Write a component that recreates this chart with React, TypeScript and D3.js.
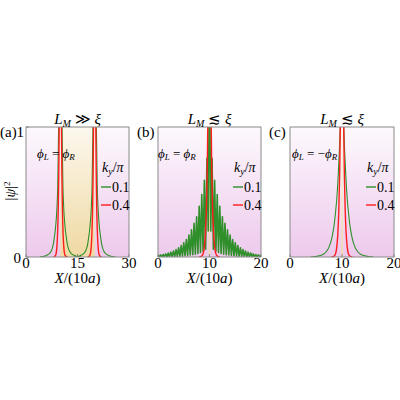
import React from "react"
import * as d3 from "d3"

// ---- data ----
const panelTags = ["(a)", "(b)", "(c)"]
const titleRelations = ["≫", "≲", "≲"]
const phaseSigns = ["", "", "−"]
const xMaxes = [30, 20, 20]
const xTickValues = [
    [0, 15, 30],
    [0, 10, 20],
    [0, 10, 20],
]
const yTickValues = [0, 1]
const legendLabels = ["0.1", "0.4"]

// middle (normal) region of each junction, in X/(10a)
const middleRegions = [
    [10, 20],
    [9.85, 10.15],
    [9.85, 10.15],
]

// peak centres of each panel
const peakCentres = [[10, 20], [10], [10]]

// k_y/pi = 0.4 : one narrow peak profile (offset from centre, |psi|^2)
const redOffsets = [-2, -1.5, -1.2, -1, -0.8, -0.6, -0.45, -0.3, -0.15, 0, 0.15, 0.3, 0.45, 0.6, 0.8, 1, 1.2, 1.5, 2]
const redValues = [0, 0.008, 0.03, 0.08, 0.18, 0.38, 0.65, 1.1, 2.0, 3.0, 2.0, 1.1, 0.65, 0.38, 0.18, 0.08, 0.03, 0.008, 0]

// k_y/pi = 0.1, panels (a) and (c): smooth peak profile
const greenOffsets = [-6, -5, -4, -3.5, -3, -2.5, -2, -1.75, -1.5, -1.25, -1, -0.75, -0.5, -0.25, 0, 0.25, 0.5, 0.75, 1, 1.25, 1.5, 1.75, 2, 2.5, 3, 3.5, 4, 5, 6]
const greenValuesA = [0.001, 0.004, 0.013, 0.02, 0.032, 0.055, 0.105, 0.15, 0.2, 0.27, 0.37, 0.55, 1.0, 1.6, 2.5, 1.6, 1.0, 0.55, 0.37, 0.27, 0.2, 0.15, 0.105, 0.055, 0.032, 0.02, 0.013, 0.004, 0.001]
const greenValuesC = [0.001, 0.004, 0.013, 0.023, 0.042, 0.076, 0.138, 0.187, 0.25, 0.34, 0.45, 0.61, 0.82, 1.1, 1.49, 1.1, 0.82, 0.61, 0.45, 0.34, 0.25, 0.187, 0.138, 0.076, 0.042, 0.023, 0.013, 0.004, 0.001]

// k_y/pi = 0.1, panel (b): fast oscillation, sampled every 0.25 from X = 0 to 20
const greenStepB = 0.25
const greenValuesB = [
    0.013, 0.001, 0.016, 0.001, 0.019, 0.002, 0.024, 0.002, 0.03, 0.003,
    0.037, 0.003, 0.046, 0.004, 0.057, 0.005, 0.071, 0.006, 0.088, 0.008,
    0.11, 0.01, 0.135, 0.012, 0.168, 0.015, 0.21, 0.018, 0.26, 0.022,
    0.31, 0.028, 0.39, 0.035, 0.48, 0.045, 0.59, 0.06, 0.76, 0.2,
    1.5,
    0.2, 0.76, 0.06, 0.59, 0.045, 0.48, 0.035, 0.39, 0.028, 0.31,
    0.022, 0.26, 0.018, 0.21, 0.015, 0.168, 0.012, 0.135, 0.01, 0.11,
    0.008, 0.088, 0.006, 0.071, 0.005, 0.057, 0.004, 0.046, 0.003, 0.037,
    0.003, 0.03, 0.002, 0.024, 0.002, 0.019, 0.001, 0.016, 0.001, 0.013,
]

// ---- layout ----
const panelLeft = [26, 158, 290]
const panelRight = [129, 261, 394]
const plotTop = 127
const plotBottom = 257
const GREEN = "#2f8f2a"
const RED = "#ff1c1c"
const FRAME = "#8a8a8a"
const FONT = "Liberation Serif"

type Pt = [number, number]

const Panel = ({ i }: { i: number }) => {
    const left = panelLeft[i]
    const right = panelRight[i]
    const x = d3.scaleLinear().domain([0, xMaxes[i]]).range([left, right])
    const y = d3.scaleLinear().domain([0, 1]).range([plotBottom, plotTop])
    const smooth = d3.line<Pt>().x((d) => x(d[0])).y((d) => y(d[1])).curve(d3.curveMonotoneX)
    const straight = d3.line<Pt>().x((d) => x(d[0])).y((d) => y(d[1]))

    const greenPaths: string[] = []
    if (i === 1) {
        const pts: Pt[] = greenValuesB.map((v, k) => [k * greenStepB, v])
        greenPaths.push(straight(pts) || "")
    } else {
        const vals = i === 0 ? greenValuesA : greenValuesC
        peakCentres[i].forEach((c) => {
            greenPaths.push(smooth(greenOffsets.map((o, k) => [c + o, vals[k]] as Pt)) || "")
        })
    }
    const redPaths = peakCentres[i].map((c) => smooth(redOffsets.map((o, k) => [c + o, redValues[k]] as Pt)) || "")

    const [m0, m1] = middleRegions[i]
    const clipId = `clip${i}`
    const legendX = right - 28

    return (
        <g fontFamily={FONT}>
            <defs>
                <clipPath id={clipId}>
                    <rect x={left} y={plotTop} width={right - left} height={plotBottom - plotTop} />
                </clipPath>
            </defs>
            <rect x={left} y={plotTop} width={right - left} height={plotBottom - plotTop} fill="url(#pinkGrad)" />
            <rect x={x(m0)} y={plotTop} width={x(m1) - x(m0)} height={plotBottom - plotTop} fill="url(#beigeGrad)" />
            <g clipPath={`url(#${clipId})`} fill="none">
                {greenPaths.map((d, k) => (
                    <path key={"g" + k} d={d} stroke={GREEN} strokeWidth={i === 1 ? 1.6 : 1.1} strokeLinejoin="round" />
                ))}
                {redPaths.map((d, k) => (
                    <path key={"r" + k} d={d} stroke={RED} strokeWidth={1.4} />
                ))}
            </g>
            <rect x={left} y={plotTop} width={right - left} height={plotBottom - plotTop} fill="none" stroke={FRAME} strokeWidth={1} />

            {/* x ticks */}
            {xTickValues[i].map((t) => (
                <g key={"xt" + t}>
                    <line x1={x(t)} x2={x(t)} y1={plotBottom} y2={plotBottom - 3} stroke={FRAME} />
                    <text x={x(t)} y={268} fontSize={15} textAnchor="middle">
                        {t}
                    </text>
                </g>
            ))}

            {/* y ticks, first panel only */}
            {i === 0 &&
                yTickValues.map((t) => (
                    <g key={"yt" + t}>
                        <line x1={left} x2={left + 3} y1={y(t)} y2={y(t)} stroke={FRAME} />
                        <text x={t === 0 ? 21 : 24} y={t === 0 ? 263 : 137} fontSize={15} textAnchor="end">
                            {t}
                        </text>
                    </g>
                ))}

            {/* x label */}
            <text x={(left + right) / 2} y={283} fontSize={15} textAnchor="middle">
                <tspan fontStyle="italic">X</tspan>/(10<tspan fontStyle="italic">a</tspan>)
            </text>

            {/* title */}
            <text x={(left + right) / 2} y={124} fontSize={15} textAnchor="middle">
                <tspan fontStyle="italic">L</tspan>
                <tspan fontStyle="italic" fontSize={10} dy={3}>
                    M
                </tspan>
                <tspan dy={-3}> {titleRelations[i]} </tspan>
                <tspan fontStyle="italic">ξ</tspan>
            </text>

            {/* panel tag */}
            <text x={left - (i === 0 ? 26 : 21)} y={137} fontSize={15}>
                {panelTags[i]}
            </text>

            {/* phase relation */}
            <text x={left + (i === 0 ? 11 : i === 1 ? 0 : 2)} y={158} fontSize={13}>
                <tspan fontStyle="italic">ϕ</tspan>
                <tspan fontStyle="italic" fontSize={9} dy={2}>
                    L
                </tspan>
                <tspan dy={-2}>{" = " + phaseSigns[i]}</tspan>
                <tspan fontStyle="italic">ϕ</tspan>
                <tspan fontStyle="italic" fontSize={9} dy={2}>
                    R
                </tspan>
            </text>

            {/* legend */}
            <text x={legendX + 1} y={172} fontSize={14}>
                <tspan fontStyle="italic">k</tspan>
                <tspan fontStyle="italic" fontSize={10} dy={3}>
                    y
                </tspan>
                <tspan dy={-3}>/</tspan>
                <tspan fontStyle="italic">π</tspan>
            </text>
            {legendLabels.map((lab, k) => (
                <g key={"lg" + k}>
                    <line x1={legendX} x2={legendX + 10} y1={187 + k * 18} y2={187 + k * 18} stroke={k === 0 ? GREEN : RED} strokeWidth={1.4} />
                    <text x={legendX + 11} y={192 + k * 18} fontSize={14}>
                        {lab}
                    </text>
                </g>
            ))}
        </g>
    )
}

export default function App() {
    return (
        <svg width={400} height={400} style={{ position: "absolute", left: 0, top: 0, background: "#fff" }}>
            <defs>
                <linearGradient id="pinkGrad" x1="0" y1="0" x2="0" y2="1">
                    <stop offset="0" stopColor="#fdf9fd" />
                    <stop offset="1" stopColor="#edc9ec" />
                </linearGradient>
                <linearGradient id="beigeGrad" x1="0" y1="0" x2="0" y2="1">
                    <stop offset="0" stopColor="#fdf8ee" />
                    <stop offset="1" stopColor="#efd9a3" />
                </linearGradient>
            </defs>
            {[0, 1, 2].map((i) => (
                <Panel key={i} i={i} />
            ))}
            <text transform="translate(15,191) rotate(-90)" fontFamily={FONT} fontSize={14} textAnchor="middle">
                |<tspan fontStyle="italic">ψ</tspan>|<tspan fontSize={9} dy={-5}>2</tspan>
            </text>
        </svg>
    )
}
